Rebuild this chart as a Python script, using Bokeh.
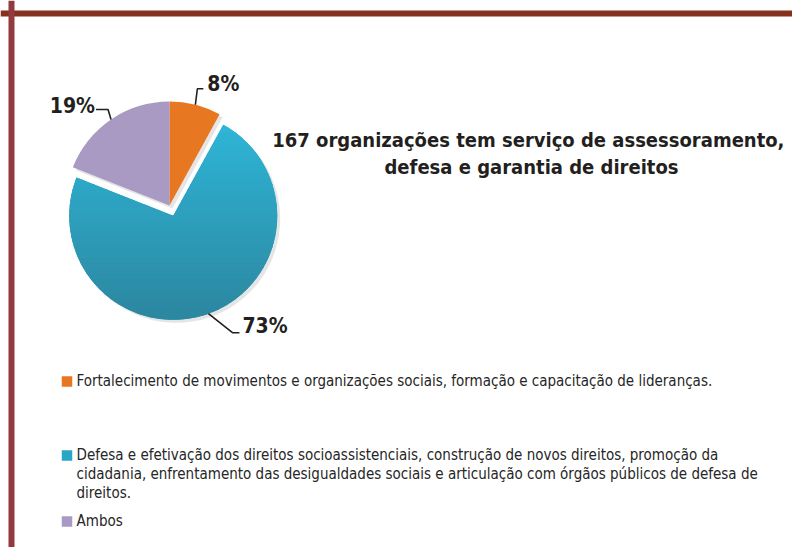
import numpy as np
from bokeh.plotting import figure
from bokeh.models import Range1d, Span, ColumnDataSource
from bokeh.core.properties import value
from bokeh.embed import file_html
from bokeh.resources import INLINE

# ---------------- data ----------------
categories = [
    "Fortalecimento  de movimentos e  organizações sociais, formação e capacitação de lideranças.",
    "Defesa e efetivação dos direitos socioassistenciais, construção de novos direitos, promoção da\ncidadania, enfrentamento das desigualdades sociais e articulação com órgãos públicos de defesa de\ndireitos.",
    "Ambos",
]
shares = [8, 73, 19]
pct_labels = ["8%", "73%", "19%"]
title_lines = ["167 organizações  tem serviço de assessoramento,", "defesa e garantia de direitos"]

# ---------------- style ----------------
colors = ["#E87722", "#28A6C6", "#A99AC3"]
teal_top, teal_bot = np.array([0x2E, 0xB8, 0xDA]), np.array([0x2C, 0x86, 0x9F])
FONT = "DejaVu Sans Condensed"
W, H = 792, 547
TDY = 7  # text baseline correction (px)


def X(sx):
    return sx


def Y(sy):
    return H - sy


p = figure(width=W, height=H, x_range=Range1d(0, W), y_range=Range1d(0, H),
           output_backend="svg", toolbar_location=None, min_border=0)
p.axis.visible = False
p.grid.visible = False
p.outline_line_color = None
p.background_fill_color = "white"
p.border_fill_color = "white"

# frame
p.add_layout(Span(location=Y(13), dimension="width", line_color="#86311F", line_width=6))
p.add_layout(Span(location=X(11), dimension="height", line_color="#923A40", line_width=6))

# ---------------- pie ----------------
cx, cy, R = X(169), Y(205), 104
explode = [0, 11, 0]
cum = np.cumsum([0] + shares) / sum(shares) * 360.0
t0, t1 = cum[:-1], cum[1:]
mid = np.radians((t0 + t1) / 2)
ux, uy = np.sin(mid), np.cos(mid)
pcx = cx + np.array(explode) * ux
pcy = cy + np.array(explode) * uy

src = ColumnDataSource(dict(x=pcx, y=pcy, start=np.radians(90 - t0), end=np.radians(90 - t1),
                            color=colors))
# soft shadow
p.wedge(x=pcx + 3, y=pcy - 3, radius=R, start_angle=np.radians(90 - t0), end_angle=np.radians(90 - t1),
        direction="clock", fill_color="#000000", fill_alpha=0.10, line_color=None)
p.wedge(x="x", y="y", radius=R, start_angle="start", end_angle="end", direction="clock",
        fill_color="color", line_color=None, source=src)


def clip(poly, ylo, yhi):
    def cut(pts, keep, yb):
        out = []
        n = len(pts)
        for i in range(n):
            a, b = pts[i], pts[(i + 1) % n]
            ka, kb = keep(a[1]), keep(b[1])
            if ka:
                out.append(a)
            if ka != kb:
                t = (yb - a[1]) / (b[1] - a[1])
                out.append((a[0] + t * (b[0] - a[0]), yb))
        return out
    pts = cut(poly, lambda y: y >= ylo, ylo)
    if pts:
        pts = cut(pts, lambda y: y <= yhi, yhi)
    return pts


# gradient overlay on the big slice (light at top, darker at bottom)
i = 1
angs = np.radians(np.linspace(t0[i], t1[i], 160))
poly = [(pcx[i], pcy[i])] + [(pcx[i] + R * np.sin(a), pcy[i] + R * np.cos(a)) for a in angs]
nb = 40
edges = np.linspace(pcy[i] - R, pcy[i] + R, nb + 1)
xs, ys, cols = [], [], []
for k in range(nb):
    pts = clip(poly, edges[k] - 0.6, edges[k + 1] + 0.6)
    if len(pts) < 3:
        continue
    f = (k + 0.5) / nb  # 0 bottom ... 1 top
    c = teal_bot + (teal_top - teal_bot) * f
    cols.append("#%02x%02x%02x" % tuple(int(round(v)) for v in c))
    xs.append([q[0] for q in pts])
    ys.append([q[1] for q in pts])
p.patches(xs, ys, fill_color=cols, line_color=None)

# ---------------- labels ----------------
ax = pcx + R * ux
ay = pcy + R * uy
leader = {0: [(2, -16), (8, -16)], 1: [(24, 19), (31, 19)], 2: [(-3, -10), (-15, -10)]}
txt_off = {0: (12, -14, "left"), 1: (34, 19, "left"), 2: (-16, -6, "right")}
for j in range(3):
    lx = [ax[j]] + [ax[j] + d[0] for d in leader[j]]
    ly = [ay[j]] + [ay[j] - d[1] for d in leader[j]]
    p.line(lx, ly, line_color="#231F20", line_width=1.6)
    ox, oy, al = txt_off[j]
    p.text(x=[ax[j] + ox], y=[ay[j] - oy + TDY], text=[pct_labels[j]], text_font=value(FONT),
           text_font_style="bold", text_font_size="21px", text_color="#231F20",
           text_align=al, text_baseline="alphabetic")

# ---------------- title ----------------
for k, line in enumerate(title_lines):
    p.text(x=[X(531)], y=[Y(146 + 27 * k) + TDY], text=[line], text_font=value(FONT),
           text_font_style="bold", text_font_size="20px", text_color="#231F20",
           text_align="center", text_baseline="alphabetic")

# ---------------- legend ----------------
item_base = [387, 461, 527]
line_gap = 19
for j, cat in enumerate(categories):
    b = item_base[j]
    p.rect(x=[X(66.5)], y=[Y(b - 6)], width=10.5, height=10.5, fill_color=colors[j], line_color=None)
    for k, line in enumerate(cat.split("\n")):
        p.text(x=[X(76)], y=[Y(b + k * line_gap) + TDY], text=[line], text_font=value(FONT),
               text_font_size="15px", text_color="#262626",
               text_align="left", text_baseline="alphabetic")

open("out.html", "w").write(file_html(p, INLINE))
